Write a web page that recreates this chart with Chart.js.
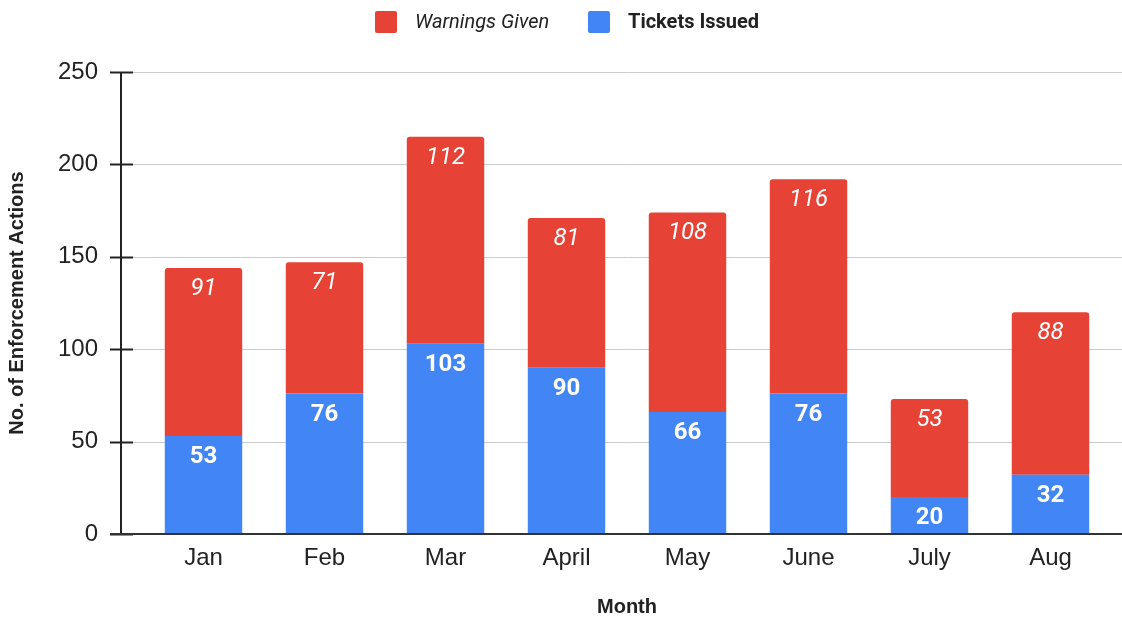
<!DOCTYPE html>
<html>
<head>
<meta charset="utf-8">
<script src="https://cdn.jsdelivr.net/npm/chart.js@4"></script>
<style>
  body { margin: 0; background: #fff; }
  #wrap { width: 1122px; height: 619px; }
</style>
</head>
<body>
<div id="wrap"><canvas id="myChart" width="1122" height="619"></canvas></div>
<script>
const months = ["Jan", "Feb", "Mar", "April", "May", "June", "July", "Aug"];
const ticketsIssued = [53, 76, 103, 90, 66, 76, 20, 32];
const warningsGiven = [91, 71, 112, 81, 108, 116, 53, 88];
const yTicks = [0, 50, 100, 150, 200, 250];

const RED = "#E64235";
const BLUE = "#4285F4";
const axisFont = "'Liberation Sans', Arial, sans-serif";
const labelFont = "Roboto, 'Liberation Sans', sans-serif";

// grid lines + axis lines, drawn wider than the plot area like the original
const axesPlugin = {
  id: "axesLines",
  beforeDatasetsDraw(chart) {
    const ctx = chart.ctx;
    const y = chart.scales.y;
    ctx.save();
    yTicks.forEach((v) => {
      const py = Math.round(y.getPixelForValue(v)) + 0.5;
      if (v !== 0) {
        ctx.strokeStyle = "#cccccc";
        ctx.lineWidth = 1;
        ctx.beginPath();
        ctx.moveTo(133, py);
        ctx.lineTo(1122, py);
        ctx.stroke();
      }
      ctx.strokeStyle = "#222";
      ctx.lineWidth = 2;
      ctx.beginPath();
      ctx.moveTo(110, py);
      ctx.lineTo(133, py);
      ctx.stroke();
    });
    ctx.strokeStyle = "#222";
    ctx.lineWidth = 2;
    ctx.beginPath();
    ctx.moveTo(121, y.getPixelForValue(250));
    ctx.lineTo(121, y.getPixelForValue(0));
    ctx.stroke();
    ctx.restore();
  },
  afterDatasetsDraw(chart) {
    const ctx = chart.ctx;
    const py = Math.round(chart.scales.y.getPixelForValue(0));
    ctx.save();
    ctx.strokeStyle = "#333";
    ctx.lineWidth = 2;
    ctx.beginPath();
    ctx.moveTo(110, py);
    ctx.lineTo(1122, py);
    ctx.stroke();
    ctx.restore();
  }
};

// white value labels inside the top of each segment
const valueLabels = {
  id: "valueLabels",
  afterDatasetsDraw(chart) {
    const ctx = chart.ctx;
    ctx.save();
    ctx.fillStyle = "#fff";
    ctx.textAlign = "center";
    ctx.textBaseline = "middle";
    chart.data.datasets.forEach((ds, i) => {
      const meta = chart.getDatasetMeta(i);
      ctx.font = (ds.label === "Tickets Issued" ? "bold " : "italic ") + "24px " + labelFont;
      meta.data.forEach((bar, j) => {
        ctx.fillText(String(ds.data[j]), bar.x, bar.y + 21);
      });
    });
    ctx.restore();
  }
};

// legend with mixed font styles
const customLegend = {
  id: "customLegend",
  afterDraw(chart) {
    const ctx = chart.ctx;
    const items = [
      { text: "Warnings Given", color: RED, font: "italic 20px " + labelFont, x: 375 },
      { text: "Tickets Issued", color: BLUE, font: "bold 20px " + labelFont, x: 588 }
    ];
    ctx.save();
    items.forEach((it) => {
      ctx.fillStyle = it.color;
      ctx.beginPath();
      ctx.roundRect(it.x, 11, 22, 22, 2);
      ctx.fill();
      ctx.fillStyle = "#222";
      ctx.font = it.font;
      ctx.textAlign = "left";
      ctx.textBaseline = "middle";
      ctx.fillText(it.text, it.x + 40, 23);
    });
    ctx.restore();
  }
};

new Chart("myChart", {
  type: "bar",
  data: {
    labels: months,
    datasets: [
      {
        label: "Tickets Issued",
        data: ticketsIssued,
        backgroundColor: BLUE,
        borderRadius: 0,
        categoryPercentage: 1,
        barPercentage: 0.64
      },
      {
        label: "Warnings Given",
        data: warningsGiven,
        backgroundColor: RED,
        borderRadius: { topLeft: 3, topRight: 3, bottomLeft: 0, bottomRight: 0 },
        borderSkipped: false,
        categoryPercentage: 1,
        barPercentage: 0.64
      }
    ]
  },
  options: {
    responsive: false,
    animation: false,
    layout: { padding: { top: 72, right: 11, left: 0, bottom: 0 } },
    plugins: {
      legend: { display: false },
      tooltip: { enabled: false }
    },
    scales: {
      x: {
        stacked: true,
        grid: { display: false, drawTicks: false },
        border: { display: false },
        ticks: { color: "#222", font: { family: axisFont, size: 24 }, padding: 10 },
        title: {
          display: true,
          text: "Month",
          color: "#222",
          font: { family: axisFont, size: 20, weight: "bold" },
          padding: { top: 0, bottom: 0 }
        },
        afterFit(scale) { scale.height = 85; }
      },
      y: {
        stacked: true,
        min: 0,
        max: 250,
        grid: { display: false, drawTicks: false },
        border: { display: false },
        afterBuildTicks(scale) { scale.ticks = yTicks.map((v) => ({ value: v })); },
        ticks: { color: "#222", font: { family: axisFont, size: 24 }, padding: 45 },
        title: {
          display: true,
          text: "No. of Enforcement Actions",
          color: "#222",
          font: { family: axisFont, size: 20, weight: "bold" },
          padding: { top: 5, bottom: 0 }
        },
        afterFit(scale) { scale.width = 143; }
      }
    }
  },
  plugins: [axesPlugin, valueLabels, customLegend]
});
</script>
</body>
</html>
